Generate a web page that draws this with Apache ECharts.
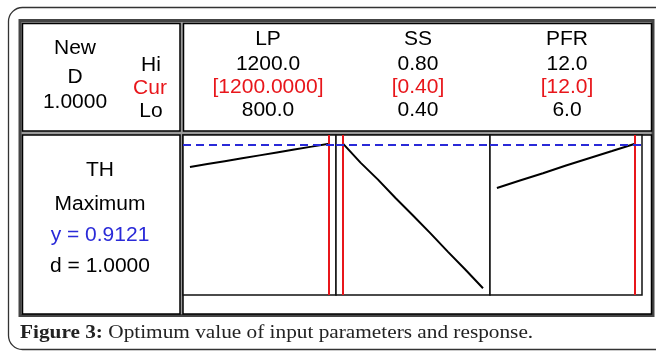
<!DOCTYPE html>
<html>
  <head>
    <meta charset="utf-8" />
    <title>Response optimizer</title>
    <style>
      html, body { margin: 0; padding: 0; background: #fff; }
    </style>
  </head>
  <body>
    <script src="https://cdn.jsdelivr.net/npm/echarts@6/dist/echarts.min.js"></script>

    <div id="container" style="width: 656px;height: 352px;"></div>

    <script type="text/javascript">
    // factor values and predicted TH along each factor
    var lpX = [800, 850, 900, 950, 1000, 1050, 1100, 1150, 1200];
    var lpY = [0.864, 0.870, 0.876, 0.882, 0.888, 0.894, 0.900, 0.906, 0.9121];
    var ssX = [0.40, 0.45, 0.50, 0.55, 0.60, 0.65, 0.70, 0.75, 0.80];
    var ssY = [0.9121, 0.873, 0.838, 0.800, 0.764, 0.727, 0.689, 0.652, 0.614];
    var pfrX = [6, 7, 8, 9, 10, 11, 12];
    var pfrY = [0.8207, 0.836, 0.851, 0.867, 0.882, 0.897, 0.9121];

    var factors = ['LP', 'SS', 'PFR'];
    var hiLabels = ['1200.0', '0.80', '12.0'];
    var curLabels = ['[1200.0000]', '[0.40]', '[12.0]'];
    var loLabels = ['800.0', '0.40', '6.0'];
    var curValues = [1200, 0.40, 12];
    var yOpt = 0.9121;

    var dom = document.getElementById('container');
    var myChart = echarts.init(dom);

    var RED = '#e8161b';
    var BLUE = '#2a2ad8';

    // panel geometry
    var panels = [
      {left: 183, width: 153, min: 780, max: 1220},
      {left: 336, width: 154, min: 0.38, max: 0.82},
      {left: 490, width: 152, min: 5.7, max: 12.3}
    ];
    var seriesData = [
      lpX.map(function (x, i) { return [x, lpY[i]]; }),
      ssX.map(function (x, i) { return [x, ssY[i]]; }),
      pfrX.map(function (x, i) { return [x, pfrY[i]]; })
    ];
    var colCenters = [268, 418, 567];

    var grids = [], xAxes = [], yAxes = [], series = [];
    panels.forEach(function (p, i) {
      grids.push({
        show: true, left: p.left, top: 135, width: p.width, height: 160,
        borderColor: '#111', borderWidth: 1.5, backgroundColor: '#fff', z: 2
      });
      xAxes.push({
        type: 'value', gridIndex: i, min: p.min, max: p.max,
        axisLine: {show: false}, axisTick: {show: false},
        axisLabel: {show: false}, splitLine: {show: false}
      });
      yAxes.push({
        type: 'value', gridIndex: i, min: 0.60, max: 0.93,
        axisLine: {show: false}, axisTick: {show: false},
        axisLabel: {show: false}, splitLine: {show: false}
      });
      series.push({
        type: 'line', xAxisIndex: i, yAxisIndex: i,
        data: seriesData[i], showSymbol: false, z: 3,
        lineStyle: {color: '#000', width: 2},
        markLine: {
          silent: true, symbol: 'none', label: {show: false},
          data: [
            {xAxis: curValues[i], lineStyle: {color: RED, width: 2, type: 'solid'}},
            {yAxis: yOpt, lineStyle: {color: BLUE, width: 2, type: [8, 5]}}
          ]
        }
      });
    });

    function txt(x, y, s, color) {
      return {
        type: 'text', z: 10, x: x, y: y, scaleX: 1.05,
        style: {
          text: s, fontSize: 20, fontFamily: '"Liberation Sans", Arial, sans-serif',
          fill: color || '#000', align: 'center', verticalAlign: 'middle'
        }
      };
    }

    var graphics = [
      // outer rounded frame
      {type: 'rect', z: 0, shape: {x: 8.5, y: 7.5, width: 700, height: 342, r: 14},
        style: {fill: '#fff', stroke: '#333', lineWidth: 1.3}},
      // table background and border
      {type: 'rect', z: 1, shape: {x: 20, y: 20.5, width: 633, height: 295},
        style: {fill: '#9a9a9a', stroke: '#444', lineWidth: 3}},
      // cells
      {type: 'rect', z: 1, shape: {x: 22.5, y: 23.5, width: 157.5, height: 107.5},
        style: {fill: '#fff', stroke: '#000', lineWidth: 1.5}},
      {type: 'rect', z: 1, shape: {x: 183.5, y: 23.5, width: 468, height: 107.5},
        style: {fill: '#fff', stroke: '#000', lineWidth: 1.5}},
      {type: 'rect', z: 1, shape: {x: 22.5, y: 135, width: 157.5, height: 179},
        style: {fill: '#fff', stroke: '#000', lineWidth: 1.5}},
      {type: 'rect', z: 1, shape: {x: 183, y: 135, width: 468.5, height: 179},
        style: {fill: '#fff', stroke: '#000', lineWidth: 1.5}},
      // top-left labels
      txt(75, 48.5, 'New'),
      txt(75, 77, 'D'),
      txt(75, 102.5, '1.0000'),
      txt(151, 65.5, 'Hi'),
      txt(150, 88.5, 'Cur', RED),
      txt(151, 111, 'Lo'),
      // response block
      txt(100, 170, 'TH'),
      txt(100, 204, 'Maximum'),
      txt(100, 235, 'y = 0.9121', BLUE),
      txt(100, 266, 'd = 1.0000'),
      // caption
      {type: 'text', z: 10, x: 20, y: 333, scaleX: 1.12,
        style: {
          text: '{b|Figure 3:} Optimum value of input parameters and response.',
          fontSize: 19, fontFamily: '"Liberation Serif", "DejaVu Serif", serif',
          fill: '#222', verticalAlign: 'middle',
          rich: {b: {fontWeight: 'bold', fontSize: 19, fontFamily: '"Liberation Serif", serif', fill: '#222'}}
        }}
    ];
    factors.forEach(function (f, i) {
      var cx = colCenters[i];
      graphics.push(txt(cx, 39, f));
      graphics.push(txt(cx, 64.5, hiLabels[i]));
      graphics.push(txt(cx, 87.5, curLabels[i], RED));
      graphics.push(txt(cx, 110, loLabels[i]));
    });

    var option = {
      animation: false,
      backgroundColor: '#fff',
      grid: grids,
      xAxis: xAxes,
      yAxis: yAxes,
      series: series,
      graphic: graphics
    };

    myChart.setOption(option);
    window.addEventListener('resize', myChart.resize);
    </script>
  </body>
</html>
